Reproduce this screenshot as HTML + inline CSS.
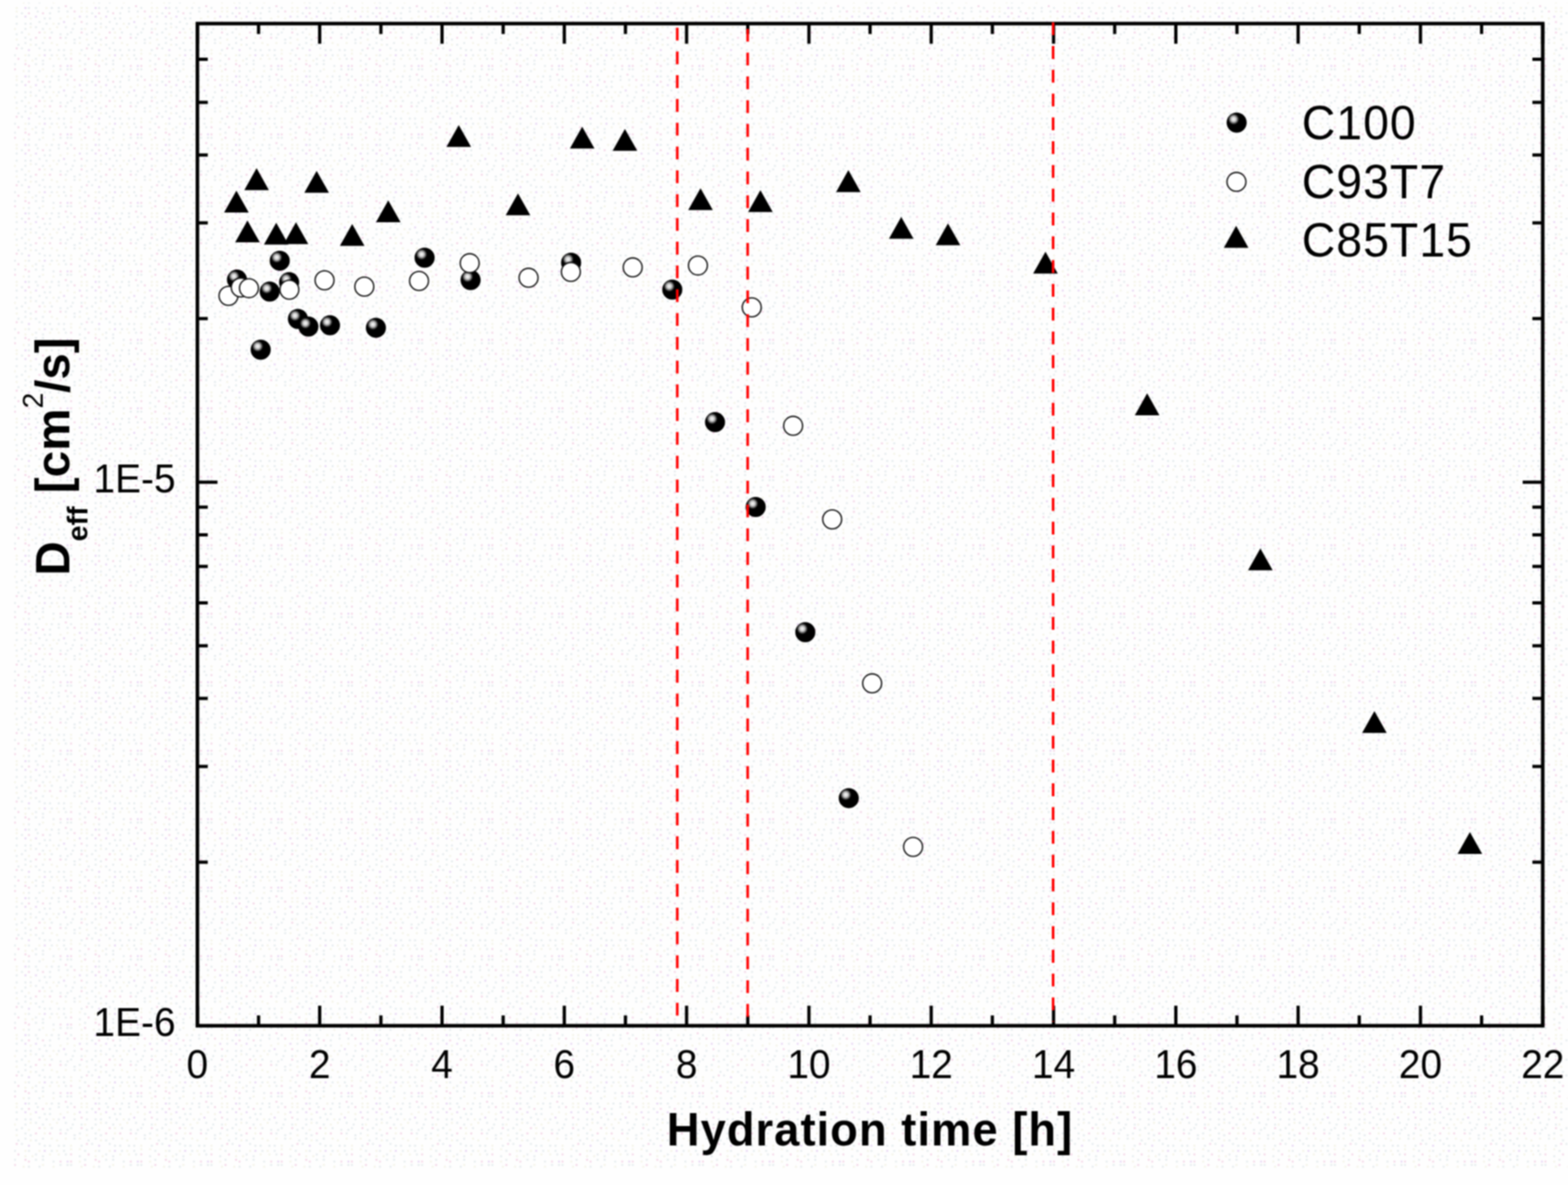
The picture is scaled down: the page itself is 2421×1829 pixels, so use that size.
<!DOCTYPE html>
<html><head><meta charset="utf-8"><title>Deff vs hydration time</title>
<style>
html,body{margin:0;padding:0;background:#fefefe;}
body{width:2421px;height:1829px;overflow:hidden;}
svg{display:block;filter:blur(0.9px);}
text{font-family:"Liberation Sans",Arial,sans-serif;fill:#000;}
</style></head><body>
<svg width="2421" height="1829" viewBox="0 0 2421 1829">
<defs>
<radialGradient id="sg" cx="0.35" cy="0.33" r="0.27" fx="0.35" fy="0.33">
<stop offset="0" stop-color="#ffffff"/>
<stop offset="0.45" stop-color="#c8c8c8"/>
<stop offset="0.85" stop-color="#3c3c3c"/>
<stop offset="1" stop-color="#000000"/>
</radialGradient>
<pattern id="dp" width="108.40" height="105.69" patternUnits="userSpaceOnUse"><rect width="108.40" height="105.69" fill="#fefefe"/><circle cx="1.35" cy="1.35" r="1.5" fill="#dfe7ea"/><circle cx="17.61" cy="4.06" r="1.5" fill="#f2f1e2"/><circle cx="23.04" cy="1.35" r="1.5" fill="#f2cde2"/><circle cx="36.58" cy="4.06" r="1.5" fill="#f2f1e2"/><circle cx="44.71" cy="4.06" r="1.5" fill="#dfe7ea"/><circle cx="60.97" cy="4.06" r="1.5" fill="#dfe7ea"/><circle cx="66.39" cy="1.35" r="1.5" fill="#f2f1e2"/><circle cx="82.66" cy="4.06" r="1.5" fill="#f2f1e2"/><circle cx="93.5" cy="1.35" r="1.5" fill="#dfe7ea"/><circle cx="104.34" cy="1.35" r="1.5" fill="#dfe7ea"/><circle cx="1.35" cy="12.2" r="1.5" fill="#dfe7ea"/><circle cx="17.61" cy="12.2" r="1.5" fill="#f2f1e2"/><circle cx="25.75" cy="12.2" r="1.5" fill="#f2f1e2"/><circle cx="39.29" cy="12.2" r="1.5" fill="#e3cdf2"/><circle cx="44.71" cy="12.2" r="1.5" fill="#dfe7ea"/><circle cx="55.55" cy="12.2" r="1.5" fill="#dfe7ea"/><circle cx="71.81" cy="12.2" r="1.5" fill="#f2f1e2"/><circle cx="79.95" cy="12.2" r="1.5" fill="#dfe7ea"/><circle cx="90.78" cy="12.2" r="1.5" fill="#dfe7ea"/><circle cx="101.62" cy="9.48" r="1.5" fill="#f2cde2"/><circle cx="6.78" cy="17.61" r="1.5" fill="#f2cde2"/><circle cx="17.61" cy="17.61" r="1.5" fill="#f2f1e2"/><circle cx="25.75" cy="17.61" r="1.5" fill="#f2f1e2"/><circle cx="33.87" cy="20.32" r="1.5" fill="#dfe7ea"/><circle cx="44.71" cy="20.32" r="1.5" fill="#f2cde2"/><circle cx="58.26" cy="17.61" r="1.5" fill="#dfe7ea"/><circle cx="66.39" cy="20.32" r="1.5" fill="#f2cde2"/><circle cx="77.23" cy="20.32" r="1.5" fill="#dfe7ea"/><circle cx="90.78" cy="17.61" r="1.5" fill="#dfe7ea"/><circle cx="104.34" cy="17.61" r="1.5" fill="#dfe7ea"/><circle cx="6.78" cy="28.46" r="1.5" fill="#f2f1e2"/><circle cx="14.91" cy="25.75" r="1.5" fill="#e3cdf2"/><circle cx="25.75" cy="25.75" r="1.5" fill="#dfe7ea"/><circle cx="39.29" cy="25.75" r="1.5" fill="#e3cdf2"/><circle cx="47.42" cy="28.46" r="1.5" fill="#f2f1e2"/><circle cx="55.55" cy="25.75" r="1.5" fill="#e3cdf2"/><circle cx="69.11" cy="28.46" r="1.5" fill="#dfe7ea"/><circle cx="77.23" cy="28.46" r="1.5" fill="#dfe7ea"/><circle cx="93.5" cy="28.46" r="1.5" fill="#f2f1e2"/><circle cx="104.34" cy="25.75" r="1.5" fill="#f2f1e2"/><circle cx="6.78" cy="36.58" r="1.5" fill="#dfe7ea"/><circle cx="17.61" cy="33.87" r="1.5" fill="#f2cde2"/><circle cx="25.75" cy="36.58" r="1.5" fill="#dfe7ea"/><circle cx="39.29" cy="36.58" r="1.5" fill="#dfe7ea"/><circle cx="47.42" cy="36.58" r="1.5" fill="#dfe7ea"/><circle cx="60.97" cy="33.87" r="1.5" fill="#dfe7ea"/><circle cx="71.81" cy="36.58" r="1.5" fill="#dfe7ea"/><circle cx="82.66" cy="36.58" r="1.5" fill="#f2f1e2"/><circle cx="90.78" cy="36.58" r="1.5" fill="#dfe7ea"/><circle cx="98.92" cy="33.87" r="1.5" fill="#e3cdf2"/><circle cx="4.06" cy="44.71" r="1.5" fill="#dfe7ea"/><circle cx="17.61" cy="44.71" r="1.5" fill="#dfe7ea"/><circle cx="23.04" cy="44.71" r="1.5" fill="#f2f1e2"/><circle cx="39.29" cy="44.71" r="1.5" fill="#dfe7ea"/><circle cx="47.42" cy="42.0" r="1.5" fill="#f2f1e2"/><circle cx="55.55" cy="42.0" r="1.5" fill="#dfe7ea"/><circle cx="66.39" cy="44.71" r="1.5" fill="#dfe7ea"/><circle cx="77.23" cy="44.71" r="1.5" fill="#f2f1e2"/><circle cx="88.08" cy="42.0" r="1.5" fill="#f2f1e2"/><circle cx="101.62" cy="42.0" r="1.5" fill="#dfe7ea"/><circle cx="1.35" cy="50.13" r="1.5" fill="#dfe7ea"/><circle cx="17.61" cy="50.13" r="1.5" fill="#f2cde2"/><circle cx="25.75" cy="52.84" r="1.5" fill="#dfe7ea"/><circle cx="33.87" cy="50.13" r="1.5" fill="#dfe7ea"/><circle cx="44.71" cy="52.84" r="1.5" fill="#f2f1e2"/><circle cx="60.97" cy="50.13" r="1.5" fill="#f2cde2"/><circle cx="69.11" cy="50.13" r="1.5" fill="#f2f1e2"/><circle cx="79.95" cy="50.13" r="1.5" fill="#dfe7ea"/><circle cx="93.5" cy="52.84" r="1.5" fill="#dfe7ea"/><circle cx="104.34" cy="52.84" r="1.5" fill="#dfe7ea"/><circle cx="6.78" cy="60.97" r="1.5" fill="#dfe7ea"/><circle cx="14.91" cy="58.26" r="1.5" fill="#dfe7ea"/><circle cx="25.75" cy="60.97" r="1.5" fill="#f2f1e2"/><circle cx="39.29" cy="58.26" r="1.5" fill="#dfe7ea"/><circle cx="47.42" cy="60.97" r="1.5" fill="#dfe7ea"/><circle cx="55.55" cy="58.26" r="1.5" fill="#f2cde2"/><circle cx="69.11" cy="58.26" r="1.5" fill="#f2f1e2"/><circle cx="77.23" cy="58.26" r="1.5" fill="#f2cde2"/><circle cx="93.5" cy="58.26" r="1.5" fill="#f2cde2"/><circle cx="101.62" cy="58.26" r="1.5" fill="#dfe7ea"/><circle cx="6.78" cy="66.39" r="1.5" fill="#dfe7ea"/><circle cx="14.91" cy="66.39" r="1.5" fill="#f2f1e2"/><circle cx="28.46" cy="69.11" r="1.5" fill="#dfe7ea"/><circle cx="39.29" cy="66.39" r="1.5" fill="#dfe7ea"/><circle cx="47.42" cy="69.11" r="1.5" fill="#f2f1e2"/><circle cx="55.55" cy="69.11" r="1.5" fill="#dfe7ea"/><circle cx="66.39" cy="66.39" r="1.5" fill="#dfe7ea"/><circle cx="79.95" cy="66.39" r="1.5" fill="#f2f1e2"/><circle cx="88.08" cy="69.11" r="1.5" fill="#f2f1e2"/><circle cx="101.62" cy="66.39" r="1.5" fill="#f2f1e2"/><circle cx="1.35" cy="77.23" r="1.5" fill="#f2f1e2"/><circle cx="17.61" cy="77.23" r="1.5" fill="#dfe7ea"/><circle cx="25.75" cy="74.53" r="1.5" fill="#f2cde2"/><circle cx="33.87" cy="74.53" r="1.5" fill="#dfe7ea"/><circle cx="44.71" cy="77.23" r="1.5" fill="#e3cdf2"/><circle cx="60.97" cy="74.53" r="1.5" fill="#dfe7ea"/><circle cx="69.11" cy="77.23" r="1.5" fill="#dfe7ea"/><circle cx="77.23" cy="77.23" r="1.5" fill="#dfe7ea"/><circle cx="90.78" cy="77.23" r="1.5" fill="#dfe7ea"/><circle cx="98.92" cy="77.23" r="1.5" fill="#dfe7ea"/><circle cx="1.35" cy="82.66" r="1.5" fill="#f2f1e2"/><circle cx="14.91" cy="82.66" r="1.5" fill="#f2f1e2"/><circle cx="23.04" cy="85.37" r="1.5" fill="#dfe7ea"/><circle cx="39.29" cy="85.37" r="1.5" fill="#f2f1e2"/><circle cx="44.71" cy="85.37" r="1.5" fill="#dfe7ea"/><circle cx="60.97" cy="85.37" r="1.5" fill="#f2f1e2"/><circle cx="69.11" cy="85.37" r="1.5" fill="#e3cdf2"/><circle cx="79.95" cy="85.37" r="1.5" fill="#dfe7ea"/><circle cx="88.08" cy="85.37" r="1.5" fill="#f2f1e2"/><circle cx="98.92" cy="85.37" r="1.5" fill="#dfe7ea"/><circle cx="1.35" cy="90.78" r="1.5" fill="#f2cde2"/><circle cx="14.91" cy="93.5" r="1.5" fill="#dfe7ea"/><circle cx="28.46" cy="90.78" r="1.5" fill="#f2cde2"/><circle cx="39.29" cy="93.5" r="1.5" fill="#f2f1e2"/><circle cx="50.13" cy="93.5" r="1.5" fill="#f2f1e2"/><circle cx="55.55" cy="90.78" r="1.5" fill="#dfe7ea"/><circle cx="66.39" cy="93.5" r="1.5" fill="#dfe7ea"/><circle cx="77.23" cy="90.78" r="1.5" fill="#f2f1e2"/><circle cx="90.78" cy="90.78" r="1.5" fill="#f2f1e2"/><circle cx="101.62" cy="90.78" r="1.5" fill="#dfe7ea"/><circle cx="1.35" cy="101.62" r="1.5" fill="#f2cde2"/><circle cx="14.91" cy="101.62" r="1.5" fill="#f2f1e2"/><circle cx="23.04" cy="98.92" r="1.5" fill="#dfe7ea"/><circle cx="39.29" cy="98.92" r="1.5" fill="#f2cde2"/><circle cx="44.71" cy="101.62" r="1.5" fill="#f2cde2"/><circle cx="55.55" cy="98.92" r="1.5" fill="#dfe7ea"/><circle cx="66.39" cy="98.92" r="1.5" fill="#dfe7ea"/><circle cx="82.66" cy="101.62" r="1.5" fill="#dfe7ea"/><circle cx="93.5" cy="101.62" r="1.5" fill="#f2cde2"/><circle cx="104.34" cy="101.62" r="1.5" fill="#e3cdf2"/></pattern>
</defs>
<rect x="0" y="0" width="2421" height="1829" fill="#fefefe"/>
<rect x="22" y="4" width="2399" height="1800" fill="url(#dp)"/>

<path d="M304.8 1583.2V1552.2M304.8 36.4V67.4M399.2 1583.2V1567.2M399.2 36.4V52.4M493.6 1583.2V1552.2M493.6 36.4V67.4M588.1 1583.2V1567.2M588.1 36.4V52.4M682.5 1583.2V1552.2M682.5 36.4V67.4M776.9 1583.2V1567.2M776.9 36.4V52.4M871.3 1583.2V1552.2M871.3 36.4V67.4M965.7 1583.2V1567.2M965.7 36.4V52.4M1060.1 1583.2V1552.2M1060.1 36.4V67.4M1154.6 1583.2V1567.2M1154.6 36.4V52.4M1249.0 1583.2V1552.2M1249.0 36.4V67.4M1343.4 1583.2V1567.2M1343.4 36.4V52.4M1437.8 1583.2V1552.2M1437.8 36.4V67.4M1532.2 1583.2V1567.2M1532.2 36.4V52.4M1626.7 1583.2V1552.2M1626.7 36.4V67.4M1721.1 1583.2V1567.2M1721.1 36.4V52.4M1815.5 1583.2V1552.2M1815.5 36.4V67.4M1909.9 1583.2V1567.2M1909.9 36.4V52.4M2004.3 1583.2V1552.2M2004.3 36.4V67.4M2098.7 1583.2V1567.2M2098.7 36.4V52.4M2193.2 1583.2V1552.2M2193.2 36.4V67.4M2287.6 1583.2V1567.2M2287.6 36.4V52.4M2382.0 1583.2V1552.2M2382.0 36.4V67.4M304.8 1330.7H320.8M2382.0 1330.7H2366.0M304.8 1182.9H320.8M2382.0 1182.9H2366.0M304.8 1078.1H320.8M2382.0 1078.1H2366.0M304.8 996.8H320.8M2382.0 996.8H2366.0M304.8 930.4H320.8M2382.0 930.4H2366.0M304.8 874.2H320.8M2382.0 874.2H2366.0M304.8 825.6H320.8M2382.0 825.6H2366.0M304.8 782.7H320.8M2382.0 782.7H2366.0M304.8 744.3H335.8M2382.0 744.3H2351.0M304.8 491.8H320.8M2382.0 491.8H2366.0M304.8 344.0H320.8M2382.0 344.0H2366.0M304.8 239.2H320.8M2382.0 239.2H2366.0M304.8 157.9H320.8M2382.0 157.9H2366.0M304.8 91.5H320.8M2382.0 91.5H2366.0" stroke="#000" stroke-width="5" fill="none"/>
<rect x="304.8" y="36.4" width="2077.2" height="1546.8" fill="none" stroke="#000" stroke-width="5.5"/>
<text transform="translate(304.8,1663.8) scale(1,1.055)" font-size="60" text-anchor="middle">0</text>
<text transform="translate(493.6,1663.8) scale(1,1.055)" font-size="60" text-anchor="middle">2</text>
<text transform="translate(682.5,1663.8) scale(1,1.055)" font-size="60" text-anchor="middle">4</text>
<text transform="translate(871.3,1663.8) scale(1,1.055)" font-size="60" text-anchor="middle">6</text>
<text transform="translate(1060.1,1663.8) scale(1,1.055)" font-size="60" text-anchor="middle">8</text>
<text transform="translate(1249.0,1663.8) scale(1,1.055)" font-size="60" text-anchor="middle">10</text>
<text transform="translate(1437.8,1663.8) scale(1,1.055)" font-size="60" text-anchor="middle">12</text>
<text transform="translate(1626.7,1663.8) scale(1,1.055)" font-size="60" text-anchor="middle">14</text>
<text transform="translate(1815.5,1663.8) scale(1,1.055)" font-size="60" text-anchor="middle">16</text>
<text transform="translate(2004.3,1663.8) scale(1,1.055)" font-size="60" text-anchor="middle">18</text>
<text transform="translate(2193.2,1663.8) scale(1,1.055)" font-size="60" text-anchor="middle">20</text>
<text transform="translate(2382.0,1663.8) scale(1,1.055)" font-size="60" text-anchor="middle">22</text>
<text transform="translate(271,760.2) scale(1,1.055)" font-size="60" text-anchor="end">1E-5</text>
<text transform="translate(271,1599.1) scale(1,1.055)" font-size="60" text-anchor="end">1E-6</text>
<text transform="translate(1029.5,1768) scale(1,1.033)" font-size="70" font-weight="bold" letter-spacing="1.6">Hydration time [h]</text>
<text transform="translate(106.5,888.5) rotate(-90)" font-size="73.5" font-weight="bold" letter-spacing="0">D<tspan font-size="44" dy="28">eff</tspan><tspan dy="-28" dx="0"> [cm</tspan><tspan font-size="44" font-weight="normal" dx="0" dy="-40.7">2</tspan><tspan dy="40.7" dx="-0.5">/s]</tspan></text>
<text transform="translate(2010,215.3) scale(1,1.036)" font-size="71.5" letter-spacing="1.65">C100</text>
<text transform="translate(2010,305.8) scale(1,1.036)" font-size="71.5" letter-spacing="1.65">C93T7</text>
<text transform="translate(2010,396.0) scale(1,1.036)" font-size="71.5" letter-spacing="1.65">C85T15</text>
<circle cx="1909.4" cy="189.2" r="15.5" fill="url(#sg)"/>
<circle cx="1909.1" cy="280.7" r="14.6" fill="#fff" stroke="#111111" stroke-width="2.1"/>
<path d="M1908.6 348.6L1927.6 382.4H1889.6Z"/>
<circle cx="431.9" cy="402.4" r="15.5" fill="url(#sg)"/>
<circle cx="365.9" cy="431.6" r="15.5" fill="url(#sg)"/>
<circle cx="416.4" cy="450.1" r="15.5" fill="url(#sg)"/>
<circle cx="446.4" cy="435.6" r="15.5" fill="url(#sg)"/>
<circle cx="460.0" cy="492.3" r="15.5" fill="url(#sg)"/>
<circle cx="476.2" cy="504.1" r="15.5" fill="url(#sg)"/>
<circle cx="509.5" cy="502.1" r="15.5" fill="url(#sg)"/>
<circle cx="580.4" cy="505.9" r="15.5" fill="url(#sg)"/>
<circle cx="402.5" cy="539.7" r="15.5" fill="url(#sg)"/>
<circle cx="655.6" cy="397.8" r="15.5" fill="url(#sg)"/>
<circle cx="726.6" cy="432.3" r="15.5" fill="url(#sg)"/>
<circle cx="881.8" cy="405.4" r="15.5" fill="url(#sg)"/>
<circle cx="1038.0" cy="447.0" r="15.5" fill="url(#sg)"/>
<circle cx="1104.0" cy="651.6" r="15.5" fill="url(#sg)"/>
<circle cx="1166.8" cy="782.5" r="15.5" fill="url(#sg)"/>
<circle cx="1243.4" cy="975.7" r="15.5" fill="url(#sg)"/>
<circle cx="1310.5" cy="1231.9" r="15.5" fill="url(#sg)"/>
<circle cx="352.8" cy="456.6" r="14.6" fill="#fff" stroke="#111111" stroke-width="2.1"/>
<circle cx="371.7" cy="443.7" r="14.6" fill="#fff" stroke="#111111" stroke-width="2.1"/>
<circle cx="384.4" cy="444.8" r="14.6" fill="#fff" stroke="#111111" stroke-width="2.1"/>
<circle cx="446.8" cy="447.1" r="14.6" fill="#fff" stroke="#111111" stroke-width="2.1"/>
<circle cx="501.1" cy="432.6" r="14.6" fill="#fff" stroke="#111111" stroke-width="2.1"/>
<circle cx="562.5" cy="442.4" r="14.6" fill="#fff" stroke="#111111" stroke-width="2.1"/>
<circle cx="647.0" cy="433.6" r="14.6" fill="#fff" stroke="#111111" stroke-width="2.1"/>
<circle cx="725.2" cy="406.2" r="14.6" fill="#fff" stroke="#111111" stroke-width="2.1"/>
<circle cx="816.1" cy="428.7" r="14.6" fill="#fff" stroke="#111111" stroke-width="2.1"/>
<circle cx="881.4" cy="419.7" r="14.6" fill="#fff" stroke="#111111" stroke-width="2.1"/>
<circle cx="976.9" cy="412.7" r="14.6" fill="#fff" stroke="#111111" stroke-width="2.1"/>
<circle cx="1077.6" cy="409.8" r="14.6" fill="#fff" stroke="#111111" stroke-width="2.1"/>
<circle cx="1160.7" cy="474.4" r="14.6" fill="#fff" stroke="#111111" stroke-width="2.1"/>
<circle cx="1224.6" cy="657.2" r="14.6" fill="#fff" stroke="#111111" stroke-width="2.1"/>
<circle cx="1284.9" cy="801.6" r="14.6" fill="#fff" stroke="#111111" stroke-width="2.1"/>
<circle cx="1346.6" cy="1054.7" r="14.6" fill="#fff" stroke="#111111" stroke-width="2.1"/>
<circle cx="1409.8" cy="1307.1" r="14.6" fill="#fff" stroke="#111111" stroke-width="2.1"/>
<path d="M396.2 259.6L415.2 293.4H377.2Z"/>
<path d="M488.9 263.7L507.9 297.5H469.9Z"/>
<path d="M365.0 294.2L384.0 328.0H346.0Z"/>
<path d="M599.5 309.2L618.5 343.0H580.5Z"/>
<path d="M382.1 340.3L401.1 374.1H363.1Z"/>
<path d="M426.5 343.7L445.5 377.5H407.5Z"/>
<path d="M457.0 343.0L476.0 376.8H438.0Z"/>
<path d="M543.8 345.7L562.8 379.5H524.8Z"/>
<path d="M708.3 192.9L727.3 226.7H689.3Z"/>
<path d="M898.9 195.5L917.9 229.3H879.9Z"/>
<path d="M964.9 198.9L983.9 232.7H945.9Z"/>
<path d="M799.8 298.4L818.8 332.2H780.8Z"/>
<path d="M1081.6 290.4L1100.6 324.2H1062.6Z"/>
<path d="M1174.1 293.4L1193.1 327.2H1155.1Z"/>
<path d="M1309.9 262.6L1328.9 296.4H1290.9Z"/>
<path d="M1391.5 334.8L1410.5 368.6H1372.5Z"/>
<path d="M1463.7 344.8L1482.7 378.6H1444.7Z"/>
<path d="M1614.2 388.5L1633.2 422.3H1595.2Z"/>
<path d="M1771.2 607.1L1790.2 640.9H1752.2Z"/>
<path d="M1946.0 846.4L1965.0 880.2H1927.0Z"/>
<path d="M2122.1 1097.4L2141.1 1131.2H2103.1Z"/>
<path d="M2269.5 1284.2L2288.5 1318.0H2250.5Z"/>
<line x1="1045.7" y1="30" x2="1045.7" y2="1577" stroke="#ff0000" stroke-width="4" stroke-dasharray="19.8 16.91" stroke-dashoffset="-12.70"/>
<line x1="1154.4" y1="30" x2="1154.4" y2="1577" stroke="#ff0000" stroke-width="4" stroke-dasharray="19.8 16.91" stroke-dashoffset="-14.50"/>
<line x1="1626.0" y1="30" x2="1626.0" y2="1577" stroke="#ff0000" stroke-width="4" stroke-dasharray="19.8 16.91" stroke-dashoffset="-4.40"/>
</svg></body></html>
